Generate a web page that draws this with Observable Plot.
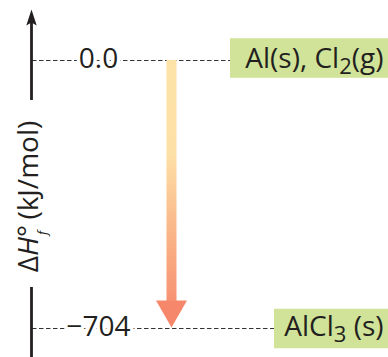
<!DOCTYPE html>
<html><head><meta charset="utf-8">
<script src="https://cdn.jsdelivr.net/npm/d3@7"></script>
<script src="https://cdn.jsdelivr.net/npm/@observablehq/plot@0.6"></script>
<style>body{margin:0;background:#fff} svg{display:block}</style>
</head><body><div id="chart"></div>
<script>
// ---- data ----
const levels = [0, -704];                          // ΔH°f, kJ/mol
const levelLabels = ["0.0", "−704"];
const species = ["Al(s), Cl₂(g)", "AlCl₃ (s)"];
const yLabel = "ΔH°f (kJ/mol)";
const columns = ["axis", "value", "reaction"];
const reactions = [{from: 0, to: -704}];

// ---- style ----
const ink = "#231f20";
const boxFill = "#d0e398";
const boxLeft = [230, 274];
const boxDy = [-2.5, 0];
const font = "Open Sans";

const arrowUp = {draw(c) { c.moveTo(0, 0); c.lineTo(5.2, 16); c.lineTo(0, 13); c.lineTo(-5.2, 16); c.closePath(); }};
const headDown = {draw(c) { c.moveTo(-15.5, -27); c.lineTo(15.5, -27); c.lineTo(0, 0); c.closePath(); }};

const chart = Plot.plot({
  width: 388, height: 357, margin: 0,
  style: {fontFamily: font, background: "#fff", color: ink},
  x: {type: "point", domain: columns, range: [30, 171], padding: 0, axis: null},
  y: {domain: [-704, 0], range: [328, 60], axis: null},
  marks: [
    Plot.ruleY(levels, {y: d => d, stroke: "#333", strokeWidth: 1, strokeDasharray: "4.5,2.5", insetLeft: 32}),
    ...levels.map((lv, i) => Plot.ruleY([lv], {y: d => d, stroke: boxFill, strokeWidth: 39.5, insetLeft: boxLeft[i], dy: boxDy[i]})),
    Plot.text(levels, {y: d => d, text: (d, i) => species[i], frameAnchor: "right", textAnchor: "end", dx: -5, dy: -1, fontSize: 28, fill: ink}),
    Plot.text(levels, {x: () => "value", y: d => d, text: (d, i) => levelLabels[i], dx: -3, dy: -1, fontSize: 28, fill: ink, stroke: "white", strokeWidth: 7, paintOrder: "stroke"}),
    Plot.ruleX(["axis"], {x: d => d, stroke: ink, strokeWidth: 2.8, insetTop: 20, insetBottom: 257}),
    Plot.ruleX(["axis"], {x: d => d, stroke: ink, strokeWidth: 2.8, insetTop: 287}),
    Plot.dot(["axis"], {x: d => d, frameAnchor: "top", dy: 9, symbol: arrowUp, fill: ink, stroke: "none"}),
    Plot.text([yLabel], {x: () => "axis", text: d => d, rotate: -90, dx: -2, dy: 17.5, fontSize: 28, fill: ink}),
    Plot.ruleX(reactions, {x: () => "reaction", y1: "from", y2: "to", stroke: "url(#reactionGradient)", strokeWidth: 10, insetBottom: 27}),
    Plot.dot(reactions, {x: () => "reaction", y: "to", symbol: headDown, fill: "#f6876b", stroke: "none", dy: -1})
  ]
});
document.getElementById("chart").appendChild(chart);

// ---- gradient for the reaction arrow ----
const svg = d3.select(chart);
const ys = chart.scale("y");
const grad = svg.insert("defs", ":first-child").append("linearGradient")
  .attr("id", "reactionGradient").attr("gradientUnits", "userSpaceOnUse")
  .attr("x1", 0).attr("x2", 0).attr("y1", ys.apply(levels[0])).attr("y2", ys.apply(levels[1]));
[[0, "#fde3a8"], [0.35, "#fde0a5"], [0.65, "#fab487"], [1, "#f5846a"]].forEach(([o, c]) =>
  grad.append("stop").attr("offset", o).attr("stop-color", c));

// ---- rich text (subscripts, italics) ----
function setRich(plain, segs) {
  svg.selectAll("text").filter(function () { return this.textContent === plain; }).each(function () {
    const t = d3.select(this); t.text(null);
    let shift = 0;
    for (const s of segs) {
      const sp = t.append("tspan").text(s.t);
      const target = s.dy || 0;
      if (target !== shift) { sp.attr("dy", target - shift); shift = target; }
      if (s.dx) sp.attr("dx", s.dx);
      if (s.size) sp.attr("font-size", s.size);
      if (s.italic) sp.attr("font-style", "italic");
    }
  });
}
const subMap = {"₀":"0","₁":"1","₂":"2","₃":"3","₄":"4","₅":"5","₆":"6","₇":"7","₈":"8","₉":"9"};
species.forEach(s => {
  const segs = [];
  for (const ch of s) {
    const sub = ch in subMap;
    const last = segs[segs.length - 1];
    if (last && !!last.sub === sub) last.t += sub ? subMap[ch] : ch;
    else segs.push(sub ? {t: subMap[ch], sub: true, size: 22, dy: 6} : {t: ch});
  }
  setRich(s, segs);
});
setRich(yLabel, [
  {t: "Δ"}, {t: "H", italic: true}, {t: "°"},
  {t: "f", italic: true, size: 13, dy: 9, dx: -10},
  {t: " (kJ/mol)", dx: 4}
]);
</script></body></html>
